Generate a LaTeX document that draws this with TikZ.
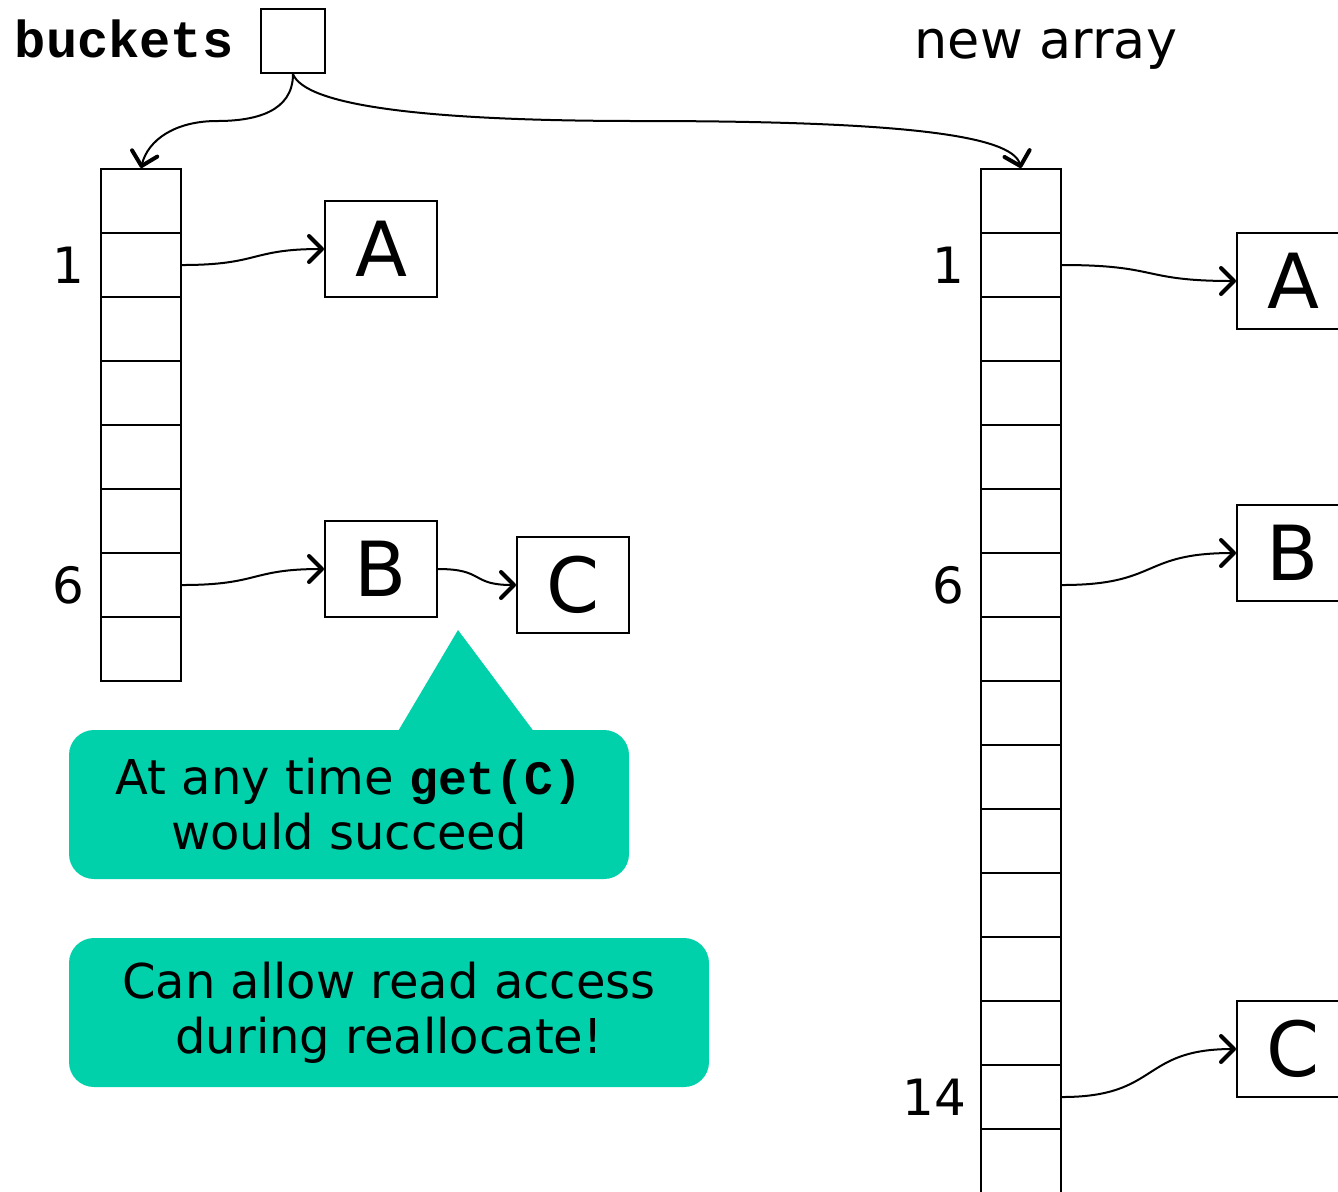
\documentclass[tikz,border=0pt]{standalone}
\usepackage{fontspec}
\setmainfont{DejaVu Sans}
\setmonofont{Liberation Mono}
\usetikzlibrary{%
  arrows.meta,%
  positioning% wg. " of "
}
\definecolor{notegreen}{RGB}{0,209,170}

\begin{document}
\begin{tikzpicture}[
  x=0.5pt, y=-0.5pt, line width=1pt, line cap=round,
  >={Straight Barb[length=6.5pt,width=13pt,line width=2pt,round]},
  cell/.style={draw, minimum width=40pt, minimum height=32pt, inner sep=0pt},
  item/.style={draw, minimum width=56pt, minimum height=48pt, inner sep=0pt, font=\fontsize{38}{40}\selectfont},
  idx/.style={font=\fontsize{25}{28}\selectfont},
  note/.style={fill=notegreen, rounded corners=12.5pt, align=center, inner sep=0pt, font=\fontsize{24}{27.5}\selectfont},
  link/.style={->, line width=1pt}
]
\useasboundingbox (0,0) rectangle (1338,1191);

% the buckets pointer
\node[draw, minimum size=32pt, inner sep=0pt] (bucket) at (293,41) {};
\node[font=\fontsize{26}{28}\selectfont\ttfamily\bfseries, anchor=base east] (bname) at (241,57) {buckets};
\node[font=\fontsize{26.2}{28}\selectfont, anchor=base west] (newname) at (907,58) {new array};

% old array
\foreach \i in {0,...,7}
  \node[cell] (l\i) at (141,{201+64*\i}) {};
\node[idx, left=4pt of l1] (l1idx) {1};
\node[idx, left=4pt of l6] (l6idx) {6};

\node[item] (lA) at (381,249) {A};
\node[item] (lB) at (381,569) {B};
\node[item] (lC) at (573,585) {C};

% new array
\foreach \i in {0,...,15}
  \node[cell] (r\i) at (1021,{201+64*\i}) {};
\node[idx, left=4pt of r1] (r1idx) {1};
\node[idx, left=4pt of r6] (r6idx) {6};
\node[idx, left=3pt of r14] (r14idx) {14};

\node[item] (rA) at (1293,281) {A};
\node[item] (rB) at (1293,553) {B};
\node[item] (rC) at (1293,1049) {C};

% links
\draw[link] (bucket.south) .. controls (293,112) and (255,121) .. (217,121)
  .. controls (175,121) and (148,140) .. (l0.north);
\draw[link] (bucket.south) .. controls (305,105) and (420,121) .. (640,121)
  .. controls (900,121) and (1012,135) .. (r0.north);

\draw[link] (l1.east) .. controls (260,265) and (250,249) .. (lA.west);
\draw[link] (l6.east) .. controls (260,585) and (250,569) .. (lB.west);
\draw[link] (lB.east) .. controls (485,569) and (470,585) .. (lC.west);
\draw[link] (r1.east) .. controls (1160,265) and (1140,281) .. (rA.west);
\draw[link] (r6.east) .. controls (1160,585) and (1140,553) .. (rB.west);
\draw[link] (r14.east) .. controls (1160,1097) and (1140,1049) .. (rC.west);

% notes
\node[note, minimum width=280pt, minimum height=74.5pt] (note1) at (349,804.5)
  {At any time \texttt{\textbf{get(C)}}\\would succeed};
\fill[notegreen] ([xshift=24pt,yshift=-2pt]note1.north) -- ([xshift=93pt,yshift=-2pt]note1.north)
  -- ([xshift=54.5pt,yshift=49.5pt]note1.north) -- cycle;

\node[note, minimum width=320pt, minimum height=74.5pt] (note2) at (389,1012.5)
  {Can allow read access\\during reallocate!};
\end{tikzpicture}
\end{document}
